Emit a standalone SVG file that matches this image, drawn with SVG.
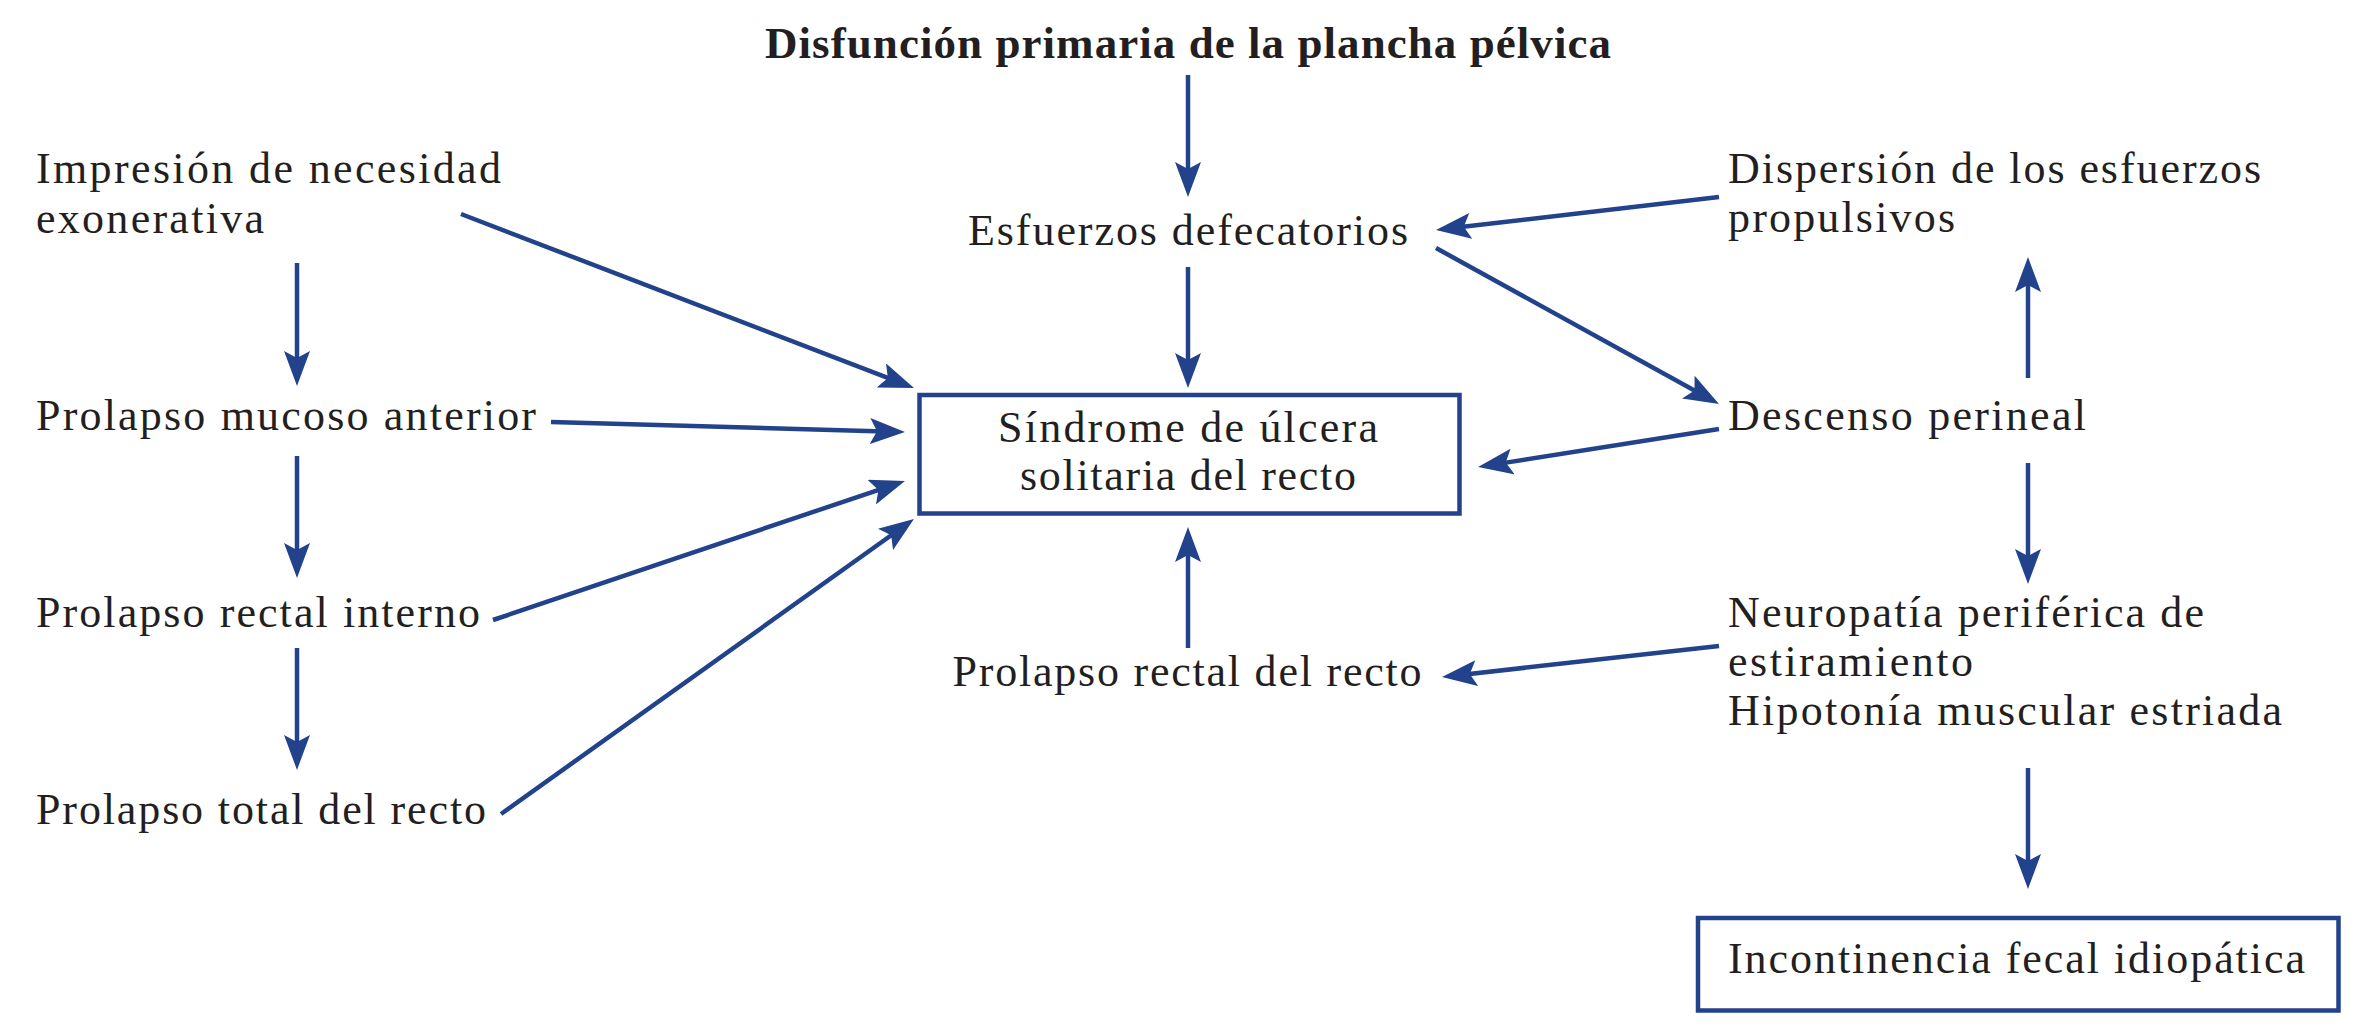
<svg xmlns="http://www.w3.org/2000/svg" width="2362" height="1035" viewBox="0 0 2362 1035">
<defs>
<marker id="ah" markerUnits="userSpaceOnUse" viewBox="0 0 35 26" markerWidth="35" markerHeight="26" refX="23" refY="13" orient="auto">
<path d="M35,13 L0,0 L7,13 L0,26 Z" fill="#22428c"/>
</marker>
</defs>
<style>
text{font-family:"Liberation Serif","Times New Roman",serif;font-size:44px;fill:#231f20}
.t{font-weight:bold;font-size:45px}
.m{text-anchor:middle}
.box{fill:none;stroke:#22428c;stroke-width:4.5}
#connectors line{stroke:#22428c;stroke-width:4.5;fill:none;marker-end:url(#ah)}
</style>
<rect width="2362" height="1035" fill="#ffffff"/>
<g id="connectors">
<line x1="1188" y1="75" x2="1188" y2="185"/>
<line x1="1188" y1="267" x2="1188" y2="376"/>
<line x1="1188" y1="648" x2="1188" y2="539"/>
<line x1="297" y1="263" x2="297" y2="374"/>
<line x1="297" y1="456" x2="297" y2="566"/>
<line x1="297" y1="648" x2="297" y2="758"/>
<line x1="461" y1="214" x2="902.8" y2="383.7"/>
<line x1="551" y1="422" x2="893" y2="431.7"/>
<line x1="493" y1="620" x2="893.6" y2="484.8"/>
<line x1="501" y1="814" x2="904.2" y2="526"/>
<line x1="1719" y1="197" x2="1447.9" y2="228.6"/>
<line x1="1436" y1="248" x2="1708.5" y2="398.2"/>
<line x1="1719" y1="429" x2="1489.9" y2="465.1"/>
<line x1="2028" y1="378" x2="2028" y2="269"/>
<line x1="2028" y1="463" x2="2028" y2="572"/>
<line x1="2028" y1="768" x2="2028" y2="877"/>
<line x1="1719" y1="646" x2="1453.9" y2="675.7"/>
</g>
<g id="title"><text class="t m" x="1188" y="58" textLength="846">Disfunción primaria de la plancha pélvica</text></g>
<g id="impresion"><text x="36" y="183" textLength="465">Impresión de necesidad</text><text x="36" y="233" textLength="228">exonerativa</text></g>
<g id="esfuerzos"><text class="m" x="1188" y="245" textLength="440">Esfuerzos defecatorios</text></g>
<g id="dispersion"><text x="1728" y="183" textLength="533">Dispersión de los esfuerzos</text><text x="1728" y="232" textLength="227">propulsivos</text></g>
<g id="mucoso"><text x="36" y="430" textLength="500">Prolapso mucoso anterior</text></g>
<g id="sindrome"><rect class="box" x="919.5" y="395" width="540" height="118.5"/><text class="m" x="1188" y="442" textLength="380">Síndrome de úlcera</text><text class="m" x="1188" y="490" textLength="336">solitaria del recto</text></g>
<g id="descenso"><text x="1728" y="430" textLength="358">Descenso perineal</text></g>
<g id="interno"><text x="36" y="627" textLength="444">Prolapso rectal interno</text></g>
<g id="neuropatia"><text x="1728" y="627" textLength="476">Neuropatía periférica de</text><text x="1728" y="676" textLength="245">estiramiento</text><text x="1728" y="725" textLength="554">Hipotonía muscular estriada</text></g>
<g id="rectal"><text class="m" x="1187" y="686" textLength="469">Prolapso rectal del recto</text></g>
<g id="total"><text x="36" y="824" textLength="450">Prolapso total del recto</text></g>
<g id="incontinencia"><rect class="box" x="1698" y="918" width="640.5" height="92.5"/><text x="1728" y="973" textLength="577">Incontinencia fecal idiopática</text></g>
</svg>
